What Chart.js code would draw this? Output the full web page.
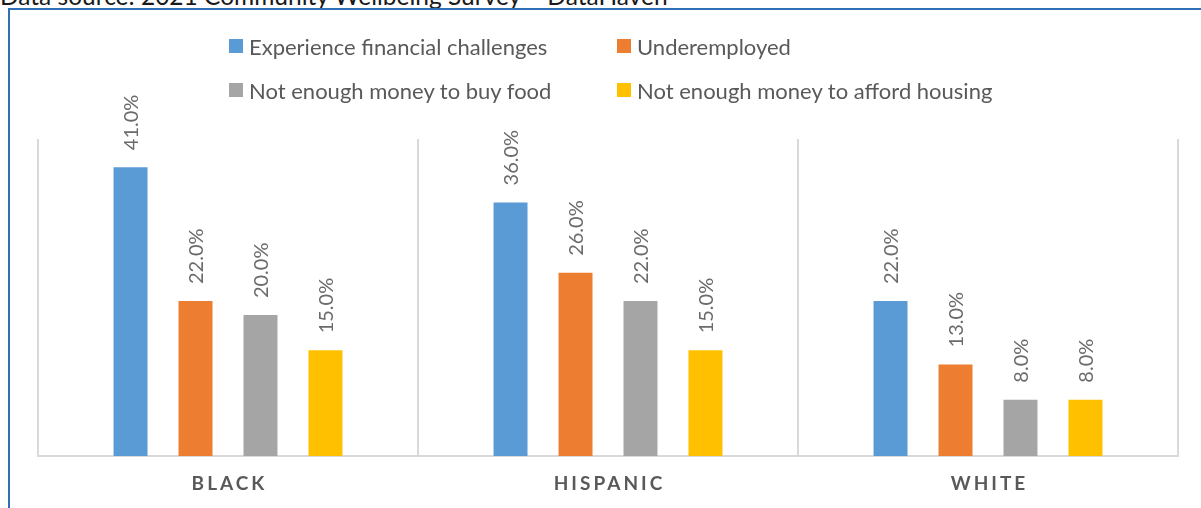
<!DOCTYPE html>
<html>
<head>
<meta charset="utf-8">
<script src="https://cdn.jsdelivr.net/npm/chart.js@4/dist/chart.umd.min.js"></script>
<style>
  html, body { margin: 0; padding: 0; background: #ffffff; }
  #wrap { position: relative; width: 1201px; height: 508px; overflow: hidden; }
  #source {
    position: absolute; left: 0; top: -16px; white-space: nowrap;
    font: 24.5px Lato, "Liberation Sans", sans-serif; line-height: 1; color: #1a1a1a;
  }
  #frame {
    position: absolute; left: 8px; top: 8px; right: -4px; bottom: -4px;
    border-left: 2px solid #2f6fb6; border-top: 2px solid #2f6fb6;
  }
  #chart { position: absolute; left: 0; top: 0; }
  .lg { position: absolute; display: flex; align-items: center; white-space: nowrap;
        font: 22px Lato, "Liberation Sans", sans-serif; color: #595959; }
  .lg i { display: inline-block; width: 14px; height: 14px; margin-right: 6px; }
</style>
</head>
<body>
<div id="wrap">
  <div id="source">Data source: 2021 Community Wellbeing Survey – DataHaven</div>
  <div id="frame"></div>
  <canvas id="chart" width="1201" height="508"></canvas>
  <div id="legend"></div>
</div>
<script>
// Groups along the x axis
const categories = ['BLACK', 'HISPANIC', 'WHITE'];

// Share of adults (%) in each group
const seriesNames = [
  'Experience financial challenges',
  'Underemployed',
  'Not enough money to buy food',
  'Not enough money to afford housing'
];
const financialChallenges = [41, 36, 22];
const underemployed       = [22, 26, 13];
const noMoneyForFood      = [20, 22, 8];
const noMoneyForHousing   = [15, 15, 8];

const seriesColors = ['#5b9bd5', '#ed7d31', '#a5a5a5', '#ffc000'];
const seriesValues = [financialChallenges, underemployed, noMoneyForFood, noMoneyForHousing];

const FONT = 'Lato, "Liberation Sans", sans-serif';

// Rotated value labels above each bar
const valueLabels = {
  id: 'valueLabels',
  afterDatasetsDraw(chart) {
    const ctx = chart.ctx;
    ctx.save();
    ctx.font = '20px ' + FONT;
    ctx.fillStyle = '#6b6b6b';
    ctx.textAlign = 'left';
    ctx.textBaseline = 'middle';
    chart.data.datasets.forEach((ds, i) => {
      chart.getDatasetMeta(i).data.forEach((bar, j) => {
        ctx.save();
        ctx.translate(bar.x, bar.y - 17);
        ctx.rotate(-Math.PI / 2);
        ctx.fillText(ds.data[j].toFixed(1) + '%', 0, 1);
        ctx.restore();
      });
    });
    ctx.restore();
  }
};

// Spaced-out bold category names under the axis
const categoryLabels = {
  id: 'categoryLabels',
  afterDraw(chart) {
    const ctx = chart.ctx;
    const x = chart.scales.x;
    const spacing = 3;
    ctx.save();
    ctx.font = 'bold 19px ' + FONT;
    ctx.fillStyle = '#595959';
    ctx.textAlign = 'center';
    ctx.textBaseline = 'middle';
    if ('letterSpacing' in ctx) ctx.letterSpacing = spacing + 'px';
    chart.data.labels.forEach((label, i) => {
      ctx.fillText(label, x.getPixelForValue(i) + spacing / 2, 484);
    });
    ctx.restore();
  }
};

const chart = new Chart(document.getElementById('chart'), {
  type: 'bar',
  data: {
    labels: categories,
    datasets: seriesNames.map((name, i) => ({
      label: name,
      data: seriesValues[i],
      backgroundColor: seriesColors[i],
      categoryPercentage: 0.684,
      barPercentage: 0.523
    }))
  },
  options: {
    responsive: false,
    animation: false,
    devicePixelRatio: 1,
    layout: { padding: { left: 38, right: 23, top: 139, bottom: 52 } },
    plugins: { legend: { display: false }, tooltip: { enabled: false } },
    scales: {
      x: {
        grid: { offset: true, color: '#d9d9d9', lineWidth: 2, drawTicks: false },
        border: { color: '#d9d9d9', width: 2 },
        ticks: { display: false }
      },
      y: { display: false, min: 0, max: 45 }
    }
  },
  plugins: [valueLabels, categoryLabels]
});

// Two-by-two legend built from the chart's datasets
const legendPos = [
  { left: 229, top: 46 }, { left: 617, top: 46 },
  { left: 229, top: 90 }, { left: 617, top: 90 }
];
const legendEl = document.getElementById('legend');
chart.data.datasets.forEach((ds, i) => {
  const item = document.createElement('div');
  item.className = 'lg';
  item.style.left = legendPos[i].left + 'px';
  item.style.top = (legendPos[i].top - 13) + 'px';
  item.style.height = '26px';
  const box = document.createElement('i');
  box.style.background = ds.backgroundColor;
  item.appendChild(box);
  item.appendChild(document.createTextNode(ds.label));
  legendEl.appendChild(item);
});
</script>
</body>
</html>
